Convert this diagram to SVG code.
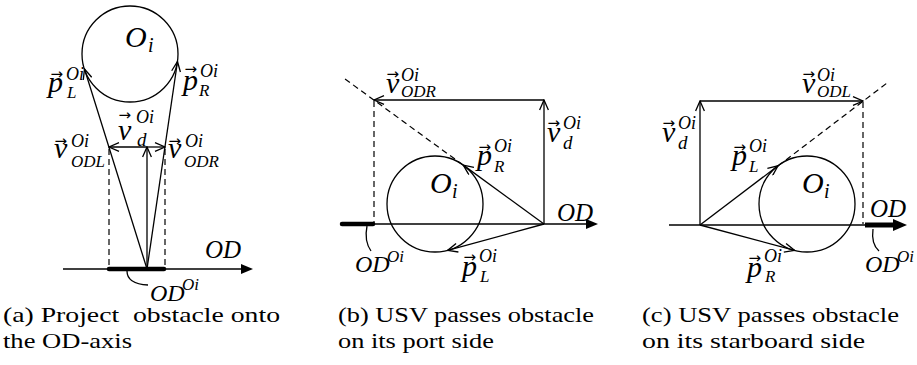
<svg xmlns="http://www.w3.org/2000/svg" width="917" height="365" viewBox="0 0 917 365">
<defs>
<style>
.ln{fill:none;stroke:#000;stroke-width:1.3}
.ds{fill:none;stroke:#000;stroke-width:1.2;stroke-dasharray:6 4}
.ax{fill:none;stroke:#000;stroke-width:1.4}
.thick{fill:none;stroke:#000;stroke-width:4.5;stroke-linecap:round}
.ob{fill:none;stroke:#000;stroke-width:1.3}
.m{font-family:"Liberation Serif","DejaVu Serif",serif;font-style:italic;font-size:30px;fill:#000}
.sp{font-size:18px}
.sb{font-size:17px}
.sd{font-size:19px}
.si{font-size:20px}
.od{font-family:"Liberation Serif","DejaVu Serif",serif;font-style:italic;font-size:25px;fill:#000}
.va{font-family:"DejaVu Sans",sans-serif;font-style:normal;font-size:15px}
.cap{font-family:"Liberation Serif","DejaVu Serif",serif;font-size:22px;fill:#000}
</style>
<marker id="open" viewBox="0 0 12 10" markerWidth="12" markerHeight="10" refX="11" refY="5" orient="auto" markerUnits="userSpaceOnUse">
<path d="M1,0.6 L11,5 L1,9.4" fill="none" stroke="#000" stroke-width="1.3"/>
</marker>
<marker id="solid" viewBox="0 0 12 10" markerWidth="12" markerHeight="10" refX="0" refY="5" orient="auto" markerUnits="userSpaceOnUse">
<path d="M0,0 L12,5 L0,10 Z" fill="#000"/>
</marker>
<marker id="solidBig" viewBox="0 0 14 12" markerWidth="14" markerHeight="12" refX="0" refY="6" orient="auto" markerUnits="userSpaceOnUse">
<path d="M0,0 L14,6 L0,12 Z" fill="#000"/>
</marker>
</defs>

<!-- Panel (a) -->
<g id="panel-a">
<g id="a-obstacle"><circle class="ob" cx="130" cy="54" r="48"/>
<text class="m"><tspan x="125" y="47">O</tspan><tspan class="si" x="148" y="52">i</tspan></text></g>
<g id="a-connectors">
<line class="ax" x1="63" y1="269" x2="241" y2="269" marker-end="url(#solid)"/>
<line class="thick" x1="109" y1="269" x2="164" y2="269"/>
<line class="ds" x1="109" y1="149" x2="109" y2="268"/>
<line class="ds" x1="165" y1="149" x2="165" y2="268"/>
<line class="ln" x1="147" y1="269" x2="84.5" y2="69" marker-end="url(#open)"/>
<line class="ln" x1="147" y1="269" x2="177.5" y2="61.5" marker-end="url(#open)"/>
<line class="ln" x1="147" y1="269" x2="147" y2="147" marker-end="url(#open)"/>
<line class="ln" x1="147" y1="147" x2="109" y2="147" marker-end="url(#open)"/>
<line class="ln" x1="147" y1="147" x2="165" y2="147" marker-end="url(#open)"/>
<path class="ln" d="M127,271 Q127,284 148,285"/>
</g>
<g id="a-labels">
<text id="a-pL" class="m"><tspan class="va" x="50.5" y="79">→</tspan><tspan x="48" y="92">p</tspan><tspan class="sp" x="66" y="80">Oi</tspan><tspan class="sb" x="67" y="98">L</tspan></text>
<text id="a-pR" class="m"><tspan class="va" x="184.5" y="74">→</tspan><tspan x="183" y="90">p</tspan><tspan class="sp" x="200" y="77">Oi</tspan><tspan class="sb" x="199" y="96">R</tspan></text>
<text id="a-vd" class="m"><tspan class="va" x="118.5" y="120">→</tspan><tspan x="118" y="140">v</tspan><tspan class="sp" x="136" y="123">Oi</tspan><tspan class="sd" x="137" y="146">d</tspan></text>
<text id="a-vODL" class="m"><tspan class="va" x="54.5" y="146">→</tspan><tspan x="54" y="158">v</tspan><tspan class="sp" x="71" y="147">Oi</tspan><tspan class="sb" x="71" y="167">ODL</tspan></text>
<text id="a-vODR" class="m"><tspan class="va" x="168.5" y="146">→</tspan><tspan x="168" y="158">v</tspan><tspan class="sp" x="185" y="147">Oi</tspan><tspan class="sb" x="184" y="167">ODR</tspan></text>
<text class="od" x="205" y="258">OD</text>
<text id="a-ODOi" class="od"><tspan x="150" y="301" style="font-size:24px">OD</tspan><tspan class="sb" x="182" y="290">Oi</tspan></text>
</g>
</g>

<!-- Panel (b) -->
<g id="panel-b">
<g id="b-obstacle"><circle class="ob" cx="435" cy="204" r="48"/>
<text class="m"><tspan x="430" y="193">O</tspan><tspan class="si" x="452" y="198">i</tspan></text></g>
<g id="b-connectors">
<line class="ax" x1="373" y1="224" x2="586" y2="224" marker-end="url(#solid)"/>
<line class="thick" x1="342" y1="224" x2="373" y2="224"/>
<line class="ds" x1="374" y1="101" x2="374" y2="223"/>
<line class="ds" x1="463" y1="165" x2="343" y2="77.5"/>
<line class="ln" x1="544" y1="224" x2="463.3" y2="165.1" marker-end="url(#open)"/>
<line class="ln" x1="544" y1="224" x2="447.6" y2="250.4" marker-end="url(#open)"/>
<line class="ln" x1="544" y1="224" x2="544" y2="100" marker-end="url(#open)"/>
<line class="ln" x1="544" y1="100" x2="374" y2="100" marker-end="url(#open)"/>
<path class="ln" d="M367,226 Q364,241 371,251"/>
</g>
<g id="b-labels">
<text id="b-vODR" class="m"><tspan class="va" x="386.5" y="79">→</tspan><tspan x="386" y="93">v</tspan><tspan class="sp" x="401" y="81">Oi</tspan><tspan class="sb" x="401" y="97">ODR</tspan></text>
<text id="b-vd" class="m"><tspan class="va" x="547.5" y="128">→</tspan><tspan x="547" y="142">v</tspan><tspan class="sp" x="563" y="129">Oi</tspan><tspan class="sd" x="563" y="149">d</tspan></text>
<text id="b-pR" class="m"><tspan class="va" x="478.5" y="152">→</tspan><tspan x="477" y="165">p</tspan><tspan class="sp" x="494" y="152">Oi</tspan><tspan class="sb" x="494" y="172">R</tspan></text>
<text id="b-pL" class="m"><tspan class="va" x="463.5" y="262">→</tspan><tspan x="462" y="276">p</tspan><tspan class="sp" x="479" y="262">Oi</tspan><tspan class="sb" x="480" y="282">L</tspan></text>
<text class="od" x="557" y="221">OD</text>
<text id="b-ODOi" class="od"><tspan x="355" y="272" style="font-size:24px">OD</tspan><tspan class="sb" x="387" y="262">Oi</tspan></text>
</g>
</g>

<!-- Panel (c) -->
<g id="panel-c">
<g id="c-obstacle"><circle class="ob" cx="807" cy="204" r="48"/>
<text class="m"><tspan x="802" y="193">O</tspan><tspan class="si" x="824" y="198">i</tspan></text></g>
<g id="c-connectors">
<line class="ax" x1="669" y1="225" x2="866" y2="225"/>
<line style="fill:none;stroke:#000;stroke-width:5" x1="865" y1="225" x2="893" y2="225" marker-end="url(#solidBig)"/>
<line class="ds" x1="863" y1="102" x2="863" y2="224"/>
<line class="ds" x1="778" y1="166" x2="887" y2="83"/>
<line class="ln" x1="700" y1="225" x2="778" y2="165.8" marker-end="url(#open)"/>
<line class="ln" x1="700" y1="225" x2="794.6" y2="250.4" marker-end="url(#open)"/>
<line class="ln" x1="700" y1="225" x2="700" y2="101" marker-end="url(#open)"/>
<line class="ln" x1="700" y1="101" x2="863" y2="101" marker-end="url(#open)"/>
<path class="ln" d="M873,229 Q871,244 879,251"/>
</g>
<g id="c-labels">
<text id="c-vODL" class="m"><tspan class="va" x="802.5" y="79">→</tspan><tspan x="802" y="93">v</tspan><tspan class="sp" x="817" y="81">Oi</tspan><tspan class="sb" x="817" y="97">ODL</tspan></text>
<text id="c-vd" class="m"><tspan class="va" x="662.5" y="128">→</tspan><tspan x="662" y="142">v</tspan><tspan class="sp" x="678" y="129">Oi</tspan><tspan class="sd" x="678" y="149">d</tspan></text>
<text id="c-pL" class="m"><tspan class="va" x="733.5" y="152">→</tspan><tspan x="732" y="165">p</tspan><tspan class="sp" x="749" y="152">Oi</tspan><tspan class="sb" x="749" y="172">L</tspan></text>
<text id="c-pR" class="m"><tspan class="va" x="748.5" y="263">→</tspan><tspan x="747" y="277">p</tspan><tspan class="sp" x="764" y="262">Oi</tspan><tspan class="sb" x="765" y="282">R</tspan></text>
<text class="od" x="870" y="217">OD</text>
<text id="c-ODOi" class="od"><tspan x="865" y="272" style="font-size:24px">OD</tspan><tspan class="sb" x="897" y="262">Oi</tspan></text>
</g>
</g>

<!-- Captions -->
<g id="captions">
<text class="cap" x="3" y="322" xml:space="preserve" textLength="277" lengthAdjust="spacingAndGlyphs">(a) Project  obstacle onto</text>
<text class="cap" x="3" y="348" textLength="129" lengthAdjust="spacingAndGlyphs">the OD-axis</text>
<text class="cap" x="338" y="322" textLength="256" lengthAdjust="spacingAndGlyphs">(b) USV passes obstacle</text>
<text class="cap" x="338" y="348" textLength="156" lengthAdjust="spacingAndGlyphs">on its port side</text>
<text class="cap" x="642" y="322" textLength="257" lengthAdjust="spacingAndGlyphs">(c) USV passes obstacle</text>
<text class="cap" x="642" y="348" textLength="223" lengthAdjust="spacingAndGlyphs">on its starboard side</text>
</g>
</svg>
